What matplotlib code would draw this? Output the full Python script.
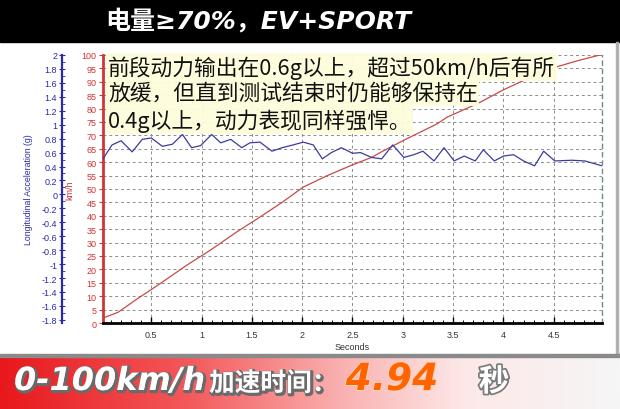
import matplotlib.pyplot as plt
import numpy as np
from matplotlib import patheffects as pe
from matplotlib.patches import Rectangle
from matplotlib.ticker import MultipleLocator, FuncFormatter

plt.rcParams['font.family'] = ['Liberation Sans', 'Noto Sans CJK SC', 'DejaVu Sans']

title = '电量≥70%，EV+SPORT'
note_lines = ['前段动力输出在0.6g以上，超过50km/h后有所',
              '放缓，但直到测试结束时仍能够保持在',
              '0.4g以上，动力表现同样强悍。']
result_label = '0-100km/h'
result_cjk = '加速时间：'
result_value = '4.94'
result_unit = '秒'

# speed trace, km/h
speed_t = [0.03, 0.17, 0.36, 0.6, 0.85, 1.1, 1.35, 1.55, 1.8, 2.01, 2.25, 2.48,
           2.69, 2.78, 3.0, 3.34, 3.44, 3.75, 4.0, 4.27, 4.53, 4.75, 4.96]
speed_v = [2, 4, 9, 15, 21.5, 27.5, 34, 38.8, 45, 50.7, 55, 58.7,
           61.8, 63.7, 68, 74.3, 76.8, 82, 87, 91.7, 95.6, 98, 100]

# longitudinal acceleration trace, g
acc_t = [0.02, 0.11, 0.20, 0.31, 0.41, 0.50, 0.61, 0.71, 0.81, 0.90, 0.99, 1.10,
         1.19, 1.29, 1.40, 1.48, 1.58, 1.70, 1.80, 1.91, 2.01, 2.11, 2.20, 2.29,
         2.39, 2.50, 2.58, 2.69, 2.79, 2.90, 3.01, 3.11, 3.20, 3.31, 3.41, 3.51,
         3.61, 3.72, 3.80, 3.91, 4.00, 4.10, 4.20, 4.31, 4.40, 4.51, 4.68, 4.81, 4.98]
acc_g = [0.51, 0.71, 0.77, 0.61, 0.79, 0.81, 0.69, 0.72, 0.86, 0.67, 0.70, 0.86,
         0.74, 0.79, 0.67, 0.74, 0.75, 0.62, 0.67, 0.71, 0.75, 0.71, 0.51, 0.60,
         0.67, 0.59, 0.60, 0.53, 0.51, 0.71, 0.53, 0.57, 0.62, 0.48, 0.67, 0.48,
         0.55, 0.48, 0.64, 0.48, 0.55, 0.57, 0.48, 0.41, 0.62, 0.48, 0.49, 0.48, 0.41]

W, H = 620.0, 410.0
red = '#d03434'
blue = '#2a2aa8'
banner_font = ['DejaVu Sans', 'Noto Sans CJK SC']

fig = plt.figure(figsize=(6.2, 4.1), dpi=100)

# top black banner
fig.add_artist(Rectangle((0, 1 - 43 / H), 1, 43 / H, transform=fig.transFigure,
                         color='black', zorder=0))
fig.text(258 / W, 1 - 21 / H, title, color='white', fontsize=18, weight='bold',
         style='italic', family=banner_font, ha='center', va='center')

# chart
ax = fig.add_axes([103 / W, 1 - 324 / H, 499 / W, 268 / H])
ax.plot(speed_t, speed_v, color='#c84a46', lw=0.9)
ax.set_xlim(0.02, 4.98)
ax.set_ylim(0, 100)
ax.xaxis.set_major_locator(MultipleLocator(0.5))
ax.xaxis.set_minor_locator(MultipleLocator(0.1))
ax.xaxis.set_major_formatter(FuncFormatter(lambda v, p: f'{v:g}'))
ax.yaxis.set_major_locator(MultipleLocator(5))
ax.grid(True, which='major', ls=(0, (3, 3)), color='#8c8c8c', lw=0.7)
ax.tick_params(axis='x', which='major', direction='in', length=4, width=1,
               labelsize=6.5, labelcolor='#333333', pad=5)
ax.tick_params(axis='x', which='minor', direction='in', length=2.5, width=0.7)
ax.tick_params(axis='y', which='major', direction='out', length=3, width=0.8,
               color=red, labelsize=6.5, labelcolor=red, pad=1.5)
ax.spines['left'].set_color(red)
ax.spines['left'].set_linewidth(2)
ax.spines['bottom'].set_linewidth(2)
ax.spines['top'].set_visible(False)
ax.spines['right'].set_linestyle((0, (3, 3)))
ax.spines['right'].set_color('#6a8e8e')
ax.spines['right'].set_linewidth(1)
ax.set_xlabel('Seconds', fontsize=6.5, color='#333333', labelpad=2)
ax.set_ylabel('km/h', fontsize=6.5, color=red, labelpad=5)

ax2 = ax.twinx()
ax2.plot(acc_t, acc_g, color='#3c3ca0', lw=0.9)
ax2.set_ylim(-1.845, 2)
ax2.yaxis.tick_left()
ax2.yaxis.set_label_position('left')
ax2.spines['left'].set_visible(True)
ax2.spines['left'].set_position(('outward', 29.5))
ax2.spines['left'].set_color(blue)
ax2.spines['left'].set_linewidth(1.6)
for s in ['right', 'top', 'bottom']:
    ax2.spines[s].set_visible(False)
ax2.yaxis.set_major_locator(MultipleLocator(0.2))
ax2.yaxis.set_minor_locator(MultipleLocator(0.1))
ax2.yaxis.set_major_formatter(FuncFormatter(lambda v, p: f'{round(v, 1) + 0:g}'))
ax2.tick_params(axis='y', which='major', direction='inout', length=4, width=0.8,
                color=blue, labelsize=6.5, labelcolor=blue, pad=1.5)
ax2.tick_params(axis='y', which='minor', direction='in', length=2, width=0.6, color=blue)
ax2.set_ylabel('Longitudinal Acceleration (g)', fontsize=6.3, color=blue, labelpad=6)

# note with yellow highlight
for i, line in enumerate(note_lines):
    fig.text(108 / W, 1 - (68 + 26.5 * i) / H, line, fontsize=15.7, color='#111111',
             family=['Noto Sans CJK SC', 'DejaVu Sans'], ha='left', va='center',
             bbox=dict(boxstyle='square,pad=0.08', fc='#fdfddc', ec='none', alpha=0.95))

# right border of the chart image
fig.add_artist(Rectangle((616 / W, 53 / H), 1.5 / W, (410 - 43 - 53) / H,
                         transform=fig.transFigure, color='#b0b0b0', zorder=1))

# bottom gradient banner
gx = np.linspace(0, 1, 400)
stops = [0, 0.3, 0.55, 0.75, 1]
cols = np.array([[232, 24, 28], [243, 88, 90], [250, 176, 176], [253, 232, 232],
                 [246, 246, 246]]) / 255
img = np.stack([np.interp(gx, stops, cols[:, i]) for i in range(3)], axis=-1)[None, :, :]
bax = fig.add_axes([0, 0, 1, 53 / H])
bax.imshow(img, aspect='auto', extent=(0, 1, 0, 1))
bax.axis('off')
fig.add_artist(Rectangle((0, 52 / H), 1, 3 / H, transform=fig.transFigure,
                         color='#8a8a8a', zorder=2))

shadow = [pe.Stroke(linewidth=2.5, foreground='#6a6a6a', offset=(1, -1)), pe.Normal()]
base_y = 19 / H
fig.text(14 / W, base_y, result_label, fontsize=23, weight='bold', style='italic',
         color='white', family=banner_font, va='baseline', path_effects=shadow)
fig.text(209 / W, base_y - 1 / H, result_cjk, fontsize=18.5, weight='bold', color='white',
         family=['Noto Sans CJK SC', 'DejaVu Sans'], va='baseline', path_effects=shadow)
fig.text(392 / W, base_y, result_value, fontsize=27, weight='bold', style='italic',
         color='#ff6400', family=banner_font, ha='center', va='baseline',
         path_effects=[pe.withStroke(linewidth=1.5, foreground='#ffd2b8')])
fig.text(494 / W, base_y - 1 / H, result_unit, fontsize=22, weight='bold', color='white',
         family=['Noto Sans CJK SC', 'DejaVu Sans'], ha='center', va='baseline',
         path_effects=[pe.withStroke(linewidth=2.5, foreground='#7a7a7a')])

fig.savefig('out.png', dpi=100)
